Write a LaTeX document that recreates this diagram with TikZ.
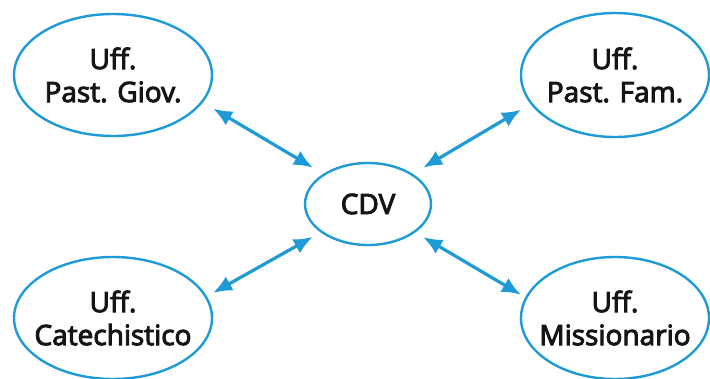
\documentclass[tikz,border=0pt]{standalone}
\usepackage{fontspec}
\newfontfamily\labfont[FakeBold=3.5]{Open Sans}
\usetikzlibrary{arrows.meta,shapes.geometric}
\definecolor{cblue}{HTML}{1E9BD7}
\definecolor{ink}{HTML}{151515}
\begin{document}
\begin{tikzpicture}[x=1pt,y=-1pt,
  office/.style={draw=cblue,line width=2.4pt,ellipse,align=center,text=ink,
    font=\labfont\fontsize{28}{33}\selectfont,inner xsep=-40pt,inner ysep=-12pt},
  link/.style={cblue,line width=3.2pt,{Latex[length=19pt,width=16pt]}-{Latex[length=19pt,width=16pt]}}]
\useasboundingbox (0,0) rectangle (710,378);
\node[office,minimum width=126pt,minimum height=82pt,inner xsep=0pt,inner ysep=0pt] (cdv) at (368,204) {CDV};
\node[office,minimum width=198pt,minimum height=122pt] (pg) at (113,75) {Uff.\\Past. Giov.};
\node[office,minimum width=188pt,minimum height=124pt] (pf) at (615,75) {Uff.\\Past. Fam.};
\node[office,minimum width=198pt,minimum height=122pt] (cat) at (113,318) {Uff.\\Catechistico};
\node[office,minimum width=188pt,minimum height=122pt] (mis) at (615,318) {Uff.\\Missionario};
\draw[link,shorten <=12pt,shorten >=12pt] (pg.-17) -- (cdv.146);
\draw[link,shorten <=11pt,shorten >=12pt] (pf.199) -- (cdv.34);
\draw[link,shorten <=7pt,shorten >=9pt] (cat.13) -- (cdv.211);
\draw[link,shorten <=5pt,shorten >=9pt] (mis.167) -- (cdv.-31);
\end{tikzpicture}
\end{document}
